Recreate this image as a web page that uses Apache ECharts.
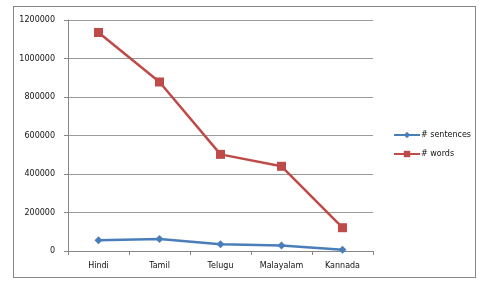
<!DOCTYPE html>
<html><head><meta charset="utf-8">
<script src="https://cdn.jsdelivr.net/npm/echarts@6/dist/echarts.min.js"></script>
<style>
html,body{margin:0;padding:0;background:#fff;}
#frame{position:absolute;left:13px;top:6px;width:463px;height:272px;border:1px solid #868686;box-sizing:border-box;}
#c{position:absolute;left:0;top:0;width:486px;height:287px;}
</style></head>
<body>
<div id="frame"></div>
<div id="c"></div>
<script>
const categories = ['Hindi','Tamil','Telugu','Malayalam','Kannada'];
const sentences = [56000, 62000, 35000, 28000, 7000];
const words = [1135000, 878000, 502000, 440000, 121000];
const seriesNames = ['# sentences', '# words'];

const chart = echarts.init(document.getElementById('c'));
chart.setOption({
  animation: false,
  grid: {left: 68, right: 113, top: 20, bottom: 36, containLabel: false},
  xAxis: {
    type: 'category', data: categories, boundaryGap: true,
    axisLine: {lineStyle: {color: '#868686'}},
    axisTick: {show: true, alignWithLabel: false, length: 4, lineStyle: {color: '#868686'}},
    axisLabel: {color: '#111', fontSize: 8, fontFamily: 'DejaVu Sans', margin: 11, interval: 0}
  },
  yAxis: {
    type: 'value', min: 0, max: 1200000, interval: 200000,
    axisLine: {show: true, lineStyle: {color: '#868686'}},
    axisTick: {show: true, length: 4, lineStyle: {color: '#868686'}},
    splitLine: {lineStyle: {color: '#9a9a9a'}},
    axisLabel: {color: '#111', fontSize: 8, fontFamily: 'DejaVu Sans', margin: 13,
      formatter: v => String(v)}
  },
  legend: {
    orient: 'vertical', left: 388, top: 126, itemGap: 11, itemWidth: 26, itemHeight: 8,
    textStyle: {fontSize: 8, fontFamily: 'DejaVu Sans', color: '#111', padding: [0,0,0,-4]},
    data: seriesNames
  },
  series: [
    {name: seriesNames[0], type: 'line', data: sentences, symbol: 'diamond', symbolSize: 8,
     lineStyle: {color: '#4A7EBB', width: 2.5}, itemStyle: {color: '#4A7EBB'}},
    {name: seriesNames[1], type: 'line', data: words, symbol: 'rect', symbolSize: 9,
     lineStyle: {color: '#BE4B48', width: 2.5}, itemStyle: {color: '#BE4B48'}}
  ]
});
</script>
</body></html>
